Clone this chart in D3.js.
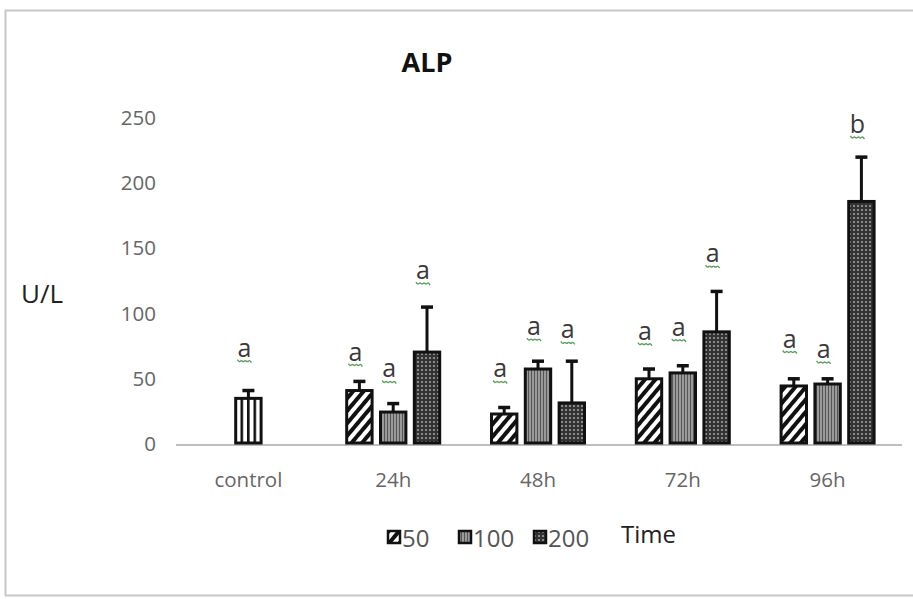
<!DOCTYPE html>
<html>
<head>
<meta charset="utf-8">
<script src="https://cdn.jsdelivr.net/npm/d3@7"></script>
<style>
  body { margin: 0; background: #fff; }
  svg { display: block; font-family: "Open Sans", sans-serif; }
</style>
</head>
<body>
<div id="container"></div>
<script>
// time points on the x axis
var categories = ["control", "24h", "48h", "72h", "96h"];
// dose groups
var doses = ["50", "100", "200"];
// mean values, U/L (control has one bar only)
var controlValue = 35;
var controlErr = 6;
var values50  = [41, 23, 50, 44.5];
var values100 = [24.5, 57.5, 54.5, 46];
var values200 = [70.5, 31.5, 86, 186];
var err50  = [7, 5, 7.5, 5.5];
var err100 = [6.5, 6, 5.5, 4];
var err200 = [34.5, 32, 31, 34];
// significance letters and the height they sit at
var letters = ["a", "a", "a", "a", "a", "a", "a", "a", "a", "a", "a", "a", "b"];
var letterVals = [67, 64, 51, 126.5, 51, 83.5, 81, 80, 83, 139.5, 74, 66, 238.5];
var yTicks = [0, 50, 100, 150, 200, 250];

var width = 913, height = 599;
var svg = d3.select("#container").append("svg")
  .attr("width", width)
  .attr("height", height);

var defs = svg.append("defs");

// control: white with black vertical stripes
var pc = defs.append("pattern").attr("id", "pCtrl")
  .attr("patternUnits", "userSpaceOnUse").attr("width", 6.5).attr("height", 10);
pc.append("rect").attr("width", 6.5).attr("height", 10).attr("fill", "#fff");
pc.append("rect").attr("x", 0).attr("width", 2.6).attr("height", 10).attr("fill", "#111");

// 50: white with black diagonal stripes
var p50 = defs.append("pattern").attr("id", "p50")
  .attr("patternUnits", "userSpaceOnUse").attr("width", 8).attr("height", 8)
  .attr("patternTransform", "rotate(40)");
p50.append("rect").attr("width", 8).attr("height", 8).attr("fill", "#fff");
p50.append("rect").attr("width", 4).attr("height", 8).attr("fill", "#111");

// 100: grey with thin vertical lines
var p100 = defs.append("pattern").attr("id", "p100")
  .attr("patternUnits", "userSpaceOnUse").attr("width", 3).attr("height", 10);
p100.append("rect").attr("width", 3).attr("height", 10).attr("fill", "#9a9a9a");
p100.append("rect").attr("width", 1).attr("height", 10).attr("fill", "#555");

// 200: dark with light dots
var p200 = defs.append("pattern").attr("id", "p200")
  .attr("patternUnits", "userSpaceOnUse").attr("width", 4).attr("height", 4);
p200.append("rect").attr("width", 4).attr("height", 4).attr("fill", "#333");
p200.append("rect").attr("x", 1).attr("y", 1).attr("width", 2).attr("height", 2).attr("fill", "#8a8a8a");

var fills = {"50": "url(#p50)", "100": "url(#p100)", "200": "url(#p200)"};

// outer frame
svg.append("rect")
  .attr("x", 5.5).attr("y", 10.5)
  .attr("width", 912).attr("height", 585)
  .attr("fill", "none").attr("stroke", "#c8c8c8").attr("stroke-width", 2);

var x = d3.scaleBand().domain(categories).range([176, 900]);
var xIn = d3.scaleBand().domain(doses).range([-48, 48]).paddingInner(0.16);
var y = d3.scaleLinear().domain([0, 250]).range([444, 118]);

// y tick labels
var yAxis = svg.append("g")
  .attr("transform", "translate(156,0)")
  .call(d3.axisLeft(y).tickValues(yTicks).tickSize(0).tickPadding(0));
yAxis.select(".domain").remove();
yAxis.selectAll("text")
  .attr("fill", "#666")
  .style("font-size", "20.5px")
  .style("font-family", "Open Sans, sans-serif");

// baseline
svg.append("line")
  .attr("x1", 176).attr("x2", 902)
  .attr("y1", y(0) + 1).attr("y2", y(0) + 1)
  .attr("stroke", "#bfbfbf").attr("stroke-width", 2);

// x labels
var xAxis = svg.append("g")
  .attr("transform", "translate(0," + (y(0) + 1) + ")")
  .call(d3.axisBottom(x).tickSize(0).tickPadding(27));
xAxis.select(".domain").remove();
xAxis.selectAll("text")
  .attr("fill", "#666")
  .style("font-size", "20.5px")
  .style("font-family", "Open Sans, sans-serif");

// flatten bars
var bars = [{cat: "control", dose: null, v: controlValue, e: controlErr, fill: "url(#pCtrl)"}];
categories.slice(1).forEach(function(c, i) {
  bars.push({cat: c, dose: "50", v: values50[i], e: err50[i], fill: fills["50"]});
  bars.push({cat: c, dose: "100", v: values100[i], e: err100[i], fill: fills["100"]});
  bars.push({cat: c, dose: "200", v: values200[i], e: err200[i], fill: fills["200"]});
});
bars.forEach(function(d, i) {
  var bw = xIn.bandwidth();
  var c = x(d.cat) + x.bandwidth() / 2;
  d.x0 = d.dose ? c + xIn(d.dose) : c - bw / 2;
  d.w = bw;
  d.cx = d.x0 + bw / 2;
  d.letter = letters[i];
  d.lv = letterVals[i];
});

var g = svg.append("g");

// error bars
g.selectAll("line.err").data(bars).enter().append("line")
  .attr("class", "err")
  .attr("x1", function(d) { return d.cx; })
  .attr("x2", function(d) { return d.cx; })
  .attr("y1", function(d) { return y(d.v); })
  .attr("y2", function(d) { return y(d.v + d.e); })
  .attr("stroke", "#111").attr("stroke-width", 3);
g.selectAll("line.cap").data(bars).enter().append("line")
  .attr("class", "cap")
  .attr("x1", function(d) { return d.cx - 6; })
  .attr("x2", function(d) { return d.cx + 6; })
  .attr("y1", function(d) { return y(d.v + d.e); })
  .attr("y2", function(d) { return y(d.v + d.e); })
  .attr("stroke", "#111").attr("stroke-width", 3.5);

// bars
g.selectAll("rect.bar").data(bars).enter().append("rect")
  .attr("class", "bar")
  .attr("x", function(d) { return d.x0 + 1.5; })
  .attr("width", function(d) { return d.w - 3; })
  .attr("y", function(d) { return y(d.v); })
  .attr("height", function(d) { return y(0) - y(d.v) - 1; })
  .attr("fill", function(d) { return d.fill; })
  .attr("stroke", "#111").attr("stroke-width", 3);

// letters with wavy underline
var squiggle = d3.line().curve(d3.curveBasis);
var lab = g.selectAll("g.lab").data(bars).enter().append("g")
  .attr("class", "lab")
  .attr("transform", function(d) { return "translate(" + (d.cx - 4) + "," + y(d.lv) + ")"; });
lab.append("text")
  .attr("text-anchor", "middle")
  .style("font-size", "25px")
  .attr("fill", "#3a3a3a")
  .text(function(d) { return d.letter; });
lab.append("path")
  .attr("d", squiggle([[-7, 3], [-5, 6], [-3, 3], [-1, 6], [1, 3], [3, 6], [5, 3], [7, 6]]))
  .attr("fill", "none").attr("stroke", "#5aa05a").attr("stroke-width", 1.4);

// title
svg.append("text")
  .attr("x", 427).attr("y", 72)
  .attr("text-anchor", "middle")
  .style("font-size", "27px").style("font-weight", "bold")
  .attr("fill", "#111")
  .text("ALP");

// y title
svg.append("text")
  .attr("x", 21).attr("y", 303)
  .style("font-size", "26px")
  .attr("fill", "#222")
  .text("U/L");

// legend
var legendX = [387, 458, 533];
var leg = svg.append("g").selectAll("g").data(doses).enter().append("g")
  .attr("transform", function(d, i) { return "translate(" + legendX[i] + ",530)"; });
leg.append("rect")
  .attr("x", 1).attr("y", 1).attr("width", 12).attr("height", 12)
  .attr("fill", function(d) { return fills[d]; })
  .attr("stroke", "#111").attr("stroke-width", 2.5);
leg.append("text")
  .attr("x", 15).attr("y", 17)
  .style("font-size", "24px")
  .attr("fill", "#555")
  .text(function(d) { return d; });

// x title
svg.append("text")
  .attr("x", 621).attr("y", 543)
  .style("font-size", "24px")
  .attr("fill", "#222")
  .text("Time");
</script>
</body>
</html>
